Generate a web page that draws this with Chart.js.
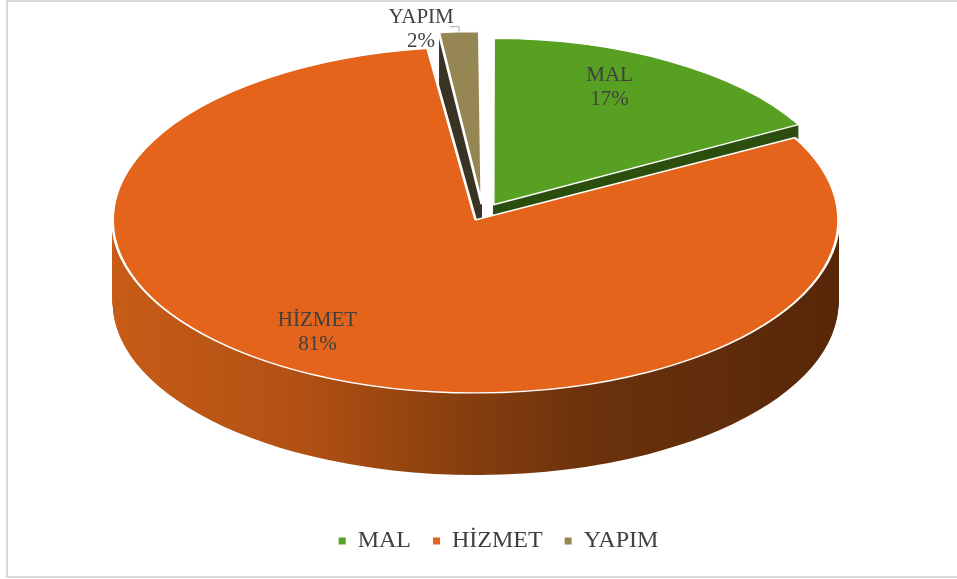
<!DOCTYPE html>
<html lang="tr">
<head>
<meta charset="utf-8">
<title>MAL / HİZMET / YAPIM</title>
<script src="https://cdn.jsdelivr.net/npm/chart.js@4.4.1/dist/chart.umd.min.js"></script>
<style>
  html, body { margin: 0; padding: 0; background: #ffffff; }
  .chart-box { position: relative; width: 957px; height: 579px; overflow: hidden; }
  .chart-box .frame { position: absolute; left: 6px; top: 0; width: 960px; height: 578px; box-sizing: border-box; border: 2px solid #d9d9d9; }
  .chart-box canvas { position: absolute; left: 0; top: 0; }
</style>
</head>
<body>
<div class="chart-box">
  <div class="frame"></div>
  <canvas id="turChart" width="957" height="579"></canvas>
</div>
<script>
const categories = ['MAL', 'HİZMET', 'YAPIM'];
const shares = [17, 81, 2];
const shareLabels = ['17%', '81%', '2%'];

const topColors = ['#57a022', '#e3641a', '#958654'];
const sideColors = ['#2c4f10', null, '#3a3526'];
const explode = [44, 36, 40];

// the flat pie gets squashed into this ellipse and extruded down
const view = { cx: 483, cy: 213, rx: 363, ry: 173, depth: 82 };
const PIE_R = 191;   // radius option
const FACE_R = 200;  // big slice radius once the offset is added

// label placement (circle units along mid angle, then a nudge in px)
const labelDist = [126, 192, 200];
const labelNudge = [[0, -24], [0, -35], [0, 0]];

function toEllipse(ctx, arc) {
    ctx.translate(view.cx, view.cy);
    ctx.scale(view.rx / FACE_R, view.ry / FACE_R);
    ctx.translate(-arc.x, -arc.y);
}

function sideFill(ctx, arc, i) {
    if (sideColors[i]) return sideColors[i];
    const g = ctx.createLinearGradient(arc.x - FACE_R, 0, arc.x + FACE_R, 0);
    g.addColorStop(0, '#c75c17');
    g.addColorStop(0.26, '#b25014');
    g.addColorStop(0.4, '#97450f');
    g.addColorStop(0.5, '#843d0f');
    g.addColorStop(0.67, '#6a310c');
    g.addColorStop(1, '#572708');
    return g;
}

function screenPoint(arc, dist) {
    const a = (arc.startAngle + arc.endAngle) / 2;
    const off = (arc.options.offset || 0) / 4;
    return {
        x: view.cx + Math.cos(a) * (off + dist) * view.rx / FACE_R,
        y: view.cy + Math.sin(a) * (off + dist) * view.ry / FACE_R
    };
}

const pie3d = {
    id: 'pie3d',
    beforeDatasetsDraw(chart) {
        const ctx = chart.ctx;
        const arcs = chart.getDatasetMeta(0).data;

        // side walls: stack darker copies from the bottom up
        for (let d = view.depth; d >= 1; d--) {
            arcs.forEach((arc, i) => {
                const opts = arc.options;
                ctx.save();
                ctx.translate(0, d);
                toEllipse(ctx, arc);
                arc.options = Object.assign({}, opts, { backgroundColor: sideFill(ctx, arc, i), borderWidth: 0 });
                arc.draw(ctx);
                arc.options = opts;
                ctx.restore();
            });
        }

        // top faces
        arcs.forEach(arc => {
            ctx.save();
            toEllipse(ctx, arc);
            arc.draw(ctx);
            ctx.restore();
        });
        return false;
    },
    afterDraw(chart) {
        const ctx = chart.ctx;
        const arcs = chart.getDatasetMeta(0).data;
        ctx.save();
        ctx.font = '21px "Liberation Serif", serif';
        ctx.fillStyle = '#404040';
        ctx.textAlign = 'center';
        ctx.textBaseline = 'middle';
        arcs.forEach((arc, i) => {
            const p = screenPoint(arc, labelDist[i]);
            let x = p.x + labelNudge[i][0];
            let y = p.y + labelNudge[i][1];
            if (labelDist[i] >= FACE_R) {
                // outside label with a small leader
                ctx.strokeStyle = '#a6a6a6';
                ctx.lineWidth = 1;
                ctx.beginPath();
                ctx.moveTo(p.x, p.y);
                ctx.lineTo(p.x, p.y - 5);
                ctx.lineTo(p.x - 9, p.y - 5);
                ctx.stroke();
                x = p.x - 38;
                y = p.y - 2;
            }
            ctx.fillText(categories[i], x, y - 12);
            ctx.fillText(shareLabels[i], x, y + 12);
        });
        ctx.restore();
    }
};

new Chart('turChart', {
    type: 'pie',
    data: {
        labels: categories,
        datasets: [{
            data: shares,
            backgroundColor: topColors,
            borderColor: '#ffffff',
            borderWidth: 1.5,
            offset: explode,
            radius: PIE_R
        }]
    },
    options: {
        responsive: false,
        devicePixelRatio: 1,
        animation: false,
        events: [],
        layout: { padding: { left: 40, right: 0, top: 0, bottom: 16 } },
        plugins: {
            tooltip: { enabled: false },
            legend: {
                position: 'bottom',
                labels: {
                    font: { family: '"Liberation Serif", serif', size: 24 },
                    color: '#404040',
                    boxWidth: 7,
                    boxHeight: 7,
                    padding: 22,
                    generateLabels(chart) {
                        return Chart.overrides.doughnut.plugins.legend.labels.generateLabels(chart)
                            .map(item => Object.assign(item, { lineWidth: 0 }));
                    }
                }
            }
        }
    },
    plugins: [pie3d]
});
</script>
</body>
</html>
